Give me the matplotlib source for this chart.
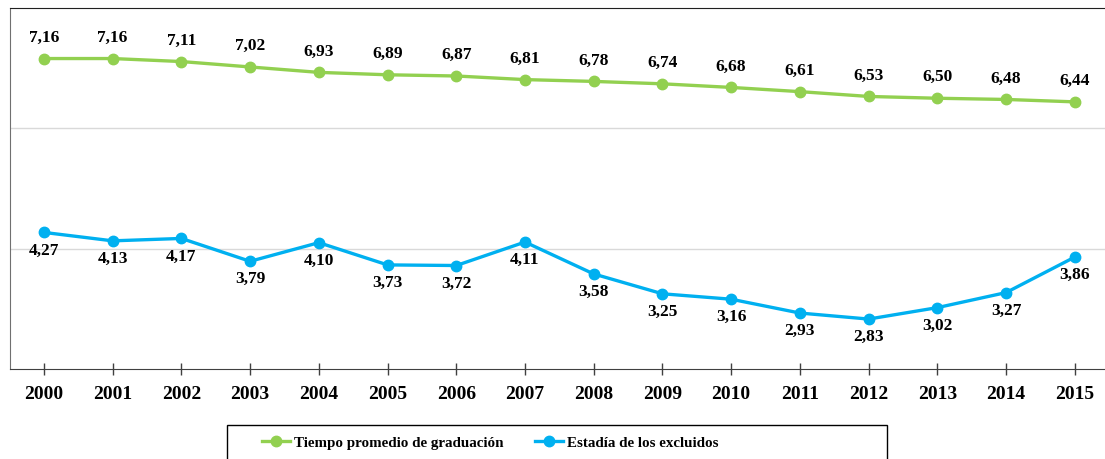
import numpy as np
import matplotlib.pyplot as plt
from matplotlib.patches import Rectangle

years = ['2000', '2001', '2002', '2003', '2004', '2005', '2006', '2007',
         '2008', '2009', '2010', '2011', '2012', '2013', '2014', '2015']
tiempo = [7.16, 7.16, 7.11, 7.02, 6.93, 6.89, 6.87, 6.81,
          6.78, 6.74, 6.68, 6.61, 6.53, 6.50, 6.48, 6.44]
estadia = [4.27, 4.13, 4.17, 3.79, 4.10, 3.73, 3.72, 4.11,
           3.58, 3.25, 3.16, 2.93, 2.83, 3.02, 3.27, 3.86]

green = '#92D050'
blue = '#00B0F0'
serif = ['Liberation Serif', 'DejaVu Serif']

W, H = 1105, 460
fig = plt.figure(figsize=(W / 100, H / 100), dpi=100)
# plot area runs off the right edge like in the original
ax = fig.add_axes([9.6 / W, (H - 370) / H, 1099.5 / W, 361 / H])

x = np.arange(len(years))
ax.plot(x, tiempo, color=green, lw=2.4, marker='o', ms=7.5, zorder=3,
        label='Tiempo promedio de graduación')
ax.plot(x, estadia, color=blue, lw=2.4, marker='o', ms=7.5, zorder=3,
        label='Estadía de los excluidos')

for i in range(len(years)):
    ax.annotate(f'{tiempo[i]:.2f}'.replace('.', ','), (x[i], tiempo[i]),
                xytext=(0, 22), textcoords='offset pixels', ha='center', va='center',
                fontsize=12.5, fontweight='bold', family=serif)
    ax.annotate(f'{estadia[i]:.2f}'.replace('.', ','), (x[i], estadia[i]),
                xytext=(0, -17), textcoords='offset pixels', ha='center', va='center',
                fontsize=12.5, fontweight='bold', family=serif)

ax.set_xlim(-0.5, len(years) - 0.5)
ax.set_ylim(2, 8)
ax.set_yticks([4, 6])
ax.yaxis.grid(True, color='#D9D9D9', lw=1)
ax.set_axisbelow(True)
ax.tick_params(axis='y', length=0, labelleft=False)
ax.set_xticks(x)
ax.set_xticklabels(years, fontsize=14, fontweight='bold', family=serif)
ax.tick_params(axis='x', direction='inout', length=9, width=1, color='#404040', pad=7)

ax.spines['right'].set_visible(False)
ax.spines['top'].set_color('#202020')
ax.spines['left'].set_color('#707070')
ax.spines['bottom'].set_color('#404040')

# legend box (clipped at the bottom in the original)
fig.patches.append(Rectangle((227 / W, -10 / H), (887 - 227) / W, (H - 426 + 10) / H,
                             transform=fig.transFigure, fill=False,
                             edgecolor='black', lw=1))
leg = fig.legend(loc='center left', bbox_to_anchor=(248 / W, (H - 443) / H), ncol=2,
                 frameon=False, handlelength=1.9, handletextpad=0.25, columnspacing=2.1,
                 prop={'family': serif, 'weight': 'bold', 'size': 10.8})

fig.savefig('out.png', dpi=100)
plt.close(fig)
